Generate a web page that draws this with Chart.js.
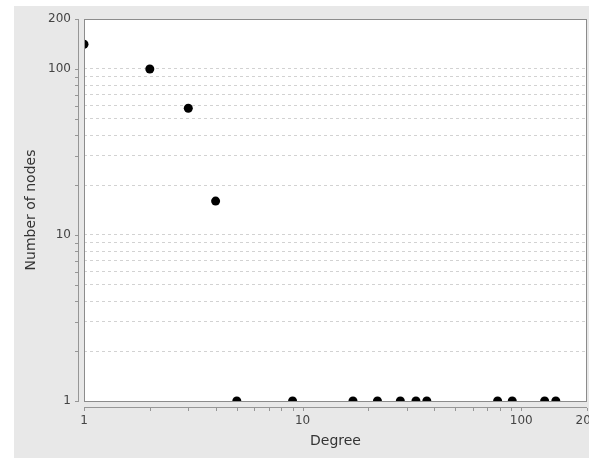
<!DOCTYPE html>
<html>
<head>
<meta charset="utf-8">
<script src="https://cdn.jsdelivr.net/npm/chart.js@4"></script>
<style>
  html, body { margin: 0; padding: 0; background: #ffffff; }
  #chart { display: block; }
</style>
</head>
<body>
<canvas id="chart" width="589" height="458"></canvas>
<script>
// degree distribution
const degrees = [1, 2, 3, 4, 5, 9, 17, 22, 28, 33, 37, 78, 91, 128, 144];
const nodeCounts = [141, 100, 58, 16, 1, 1, 1, 1, 1, 1, 1, 1, 1, 1, 1];

// tick positions (log decades with 1..9 steps) and which of them get a label
const logTicks = [1, 2, 3, 4, 5, 6, 7, 8, 9, 10, 20, 30, 40, 50, 60, 70, 80, 90, 100, 200];
const xTickLabels = [1, 10, 100, 200];
const yTickLabels = [1, 10, 100, 200];

const panelColor = '#e8e8e8';
const axisColor = '#969696';

const frame = {
    id: 'frame',
    beforeDraw(chart) {
        const ctx = chart.ctx;
        const area = chart.chartArea;
        ctx.save();
        ctx.fillStyle = '#ffffff';
        ctx.fillRect(0, 0, chart.width, chart.height);
        ctx.fillStyle = panelColor;
        ctx.fillRect(14, 6, chart.width - 14, chart.height - 6);
        ctx.fillStyle = '#ffffff';
        ctx.fillRect(area.left, area.top, area.right - area.left, area.bottom - area.top);
        ctx.restore();
    },
    afterDraw(chart) {
        const ctx = chart.ctx;
        const area = chart.chartArea;
        const xs = chart.scales.x;
        const ys = chart.scales.y;
        const left = Math.round(area.left);
        const right = Math.round(area.right);
        const top = Math.round(area.top);
        const bottom = Math.round(area.bottom);
        ctx.save();

        // detached axis lines with tick marks
        ctx.fillStyle = axisColor;
        const ax = left - 6;
        const ay = bottom + 6;
        ctx.fillRect(ax, top, 1, bottom - top + 1);
        ys.ticks.forEach(t => {
            const py = Math.round(ys.getPixelForValue(t.value));
            ctx.fillRect(ax - 3, py, 3, 1);
        });
        ctx.fillRect(left, ay, right - left, 1);
        xs.ticks.forEach(t => {
            const px = Math.round(xs.getPixelForValue(t.value));
            ctx.fillRect(px, ay + 1, 1, 3);
        });

        // plot border
        ctx.fillStyle = '#8c8c8c';
        ctx.fillRect(left, top, right - left, 1);
        ctx.fillRect(left, bottom, right - left, 1);
        ctx.fillRect(left, top, 1, bottom - top + 1);
        ctx.fillRect(right - 1, top, 1, bottom - top + 1);
        ctx.restore();
    }
};

const tickFont = { family: 'DejaVu Sans', size: 12 };
const titleFont = { family: 'DejaVu Sans', size: 14 };

function useLogTicks(scale) {
    scale.ticks = logTicks.map(v => ({ value: v }));
}

new Chart(document.getElementById('chart'), {
    type: 'scatter',
    data: {
        datasets: [{
            data: degrees.map((d, i) => ({ x: d, y: nodeCounts[i] })),
            backgroundColor: '#000000',
            borderWidth: 0,
            pointRadius: 4.5,
            pointHoverRadius: 4.5,
            clip: 0,
        }],
    },
    options: {
        responsive: false,
        animation: false,
        events: [],
        layout: {
            autoPadding: false,
            padding: { left: 14, top: 19, right: 2, bottom: 0 },
        },
        plugins: {
            legend: { display: false },
            tooltip: { enabled: false },
        },
        scales: {
            x: {
                type: 'logarithmic',
                min: 1,
                max: 200,
                grid: { display: false },
                border: { display: false },
                afterBuildTicks: useLogTicks,
                ticks: {
                    autoSkip: false,
                    maxRotation: 0,
                    padding: 5,
                    color: '#444444',
                    font: tickFont,
                    callback: value => xTickLabels.includes(value) ? String(value) : '',
                },
                title: {
                    display: true,
                    text: 'Degree',
                    color: '#333333',
                    font: titleFont,
                    padding: { top: 0, bottom: 8 },
                },
                afterFit(scale) {
                    scale.height = 57;
                    scale.paddingLeft = 0;
                    scale.paddingRight = 0;
                },
            },
            y: {
                type: 'logarithmic',
                min: 1,
                max: 200,
                grid: {
                    color: '#d2d2d2',
                    drawTicks: false,
                },
                border: { display: false, dash: [3, 3] },
                afterBuildTicks: useLogTicks,
                ticks: {
                    autoSkip: false,
                    padding: 13,
                    color: '#444444',
                    font: tickFont,
                    callback: value => yTickLabels.includes(value) ? String(value) : '',
                },
                title: {
                    display: true,
                    text: 'Number of nodes',
                    color: '#333333',
                    font: titleFont,
                    padding: { top: 9, bottom: 0 },
                },
                afterFit(scale) {
                    scale.width = 70;
                    scale.paddingTop = 0;
                    scale.paddingBottom = 0;
                },
            },
        },
    },
    plugins: [frame],
});
</script>
</body>
</html>
